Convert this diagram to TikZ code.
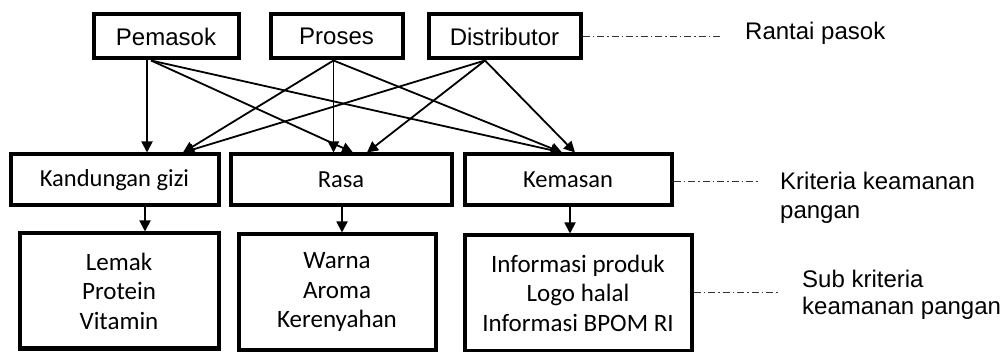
\documentclass[tikz,border=0pt]{standalone}
\usepackage{fontspec}
\setmainfont{Carlito}
\newfontfamily\arial{Liberation Sans}
\usetikzlibrary{arrows.meta}
\begin{document}
\begin{tikzpicture}[x=1pt,y=-1pt,
  topbox/.style={draw, line width=4pt, inner sep=0pt, minimum height=44pt, font=\arial\fontsize{24}{28}\selectfont},
  midbox/.style={draw, line width=4pt, inner sep=0pt, minimum height=51pt, font=\fontsize{24.5}{29.5}\selectfont},
  botbox/.style={draw, line width=4pt, inner sep=0pt, minimum height=115pt, align=center, font=\fontsize{25}{29.5}\selectfont},
  arr/.style={line width=1.8pt, -{Triangle[length=11pt,width=11pt]}},
  dd/.style={line width=1pt, black!80, dash pattern=on 7pt off 3pt on 1.5pt off 3pt},
  lab/.style={anchor=base west, inner sep=0pt, font=\arial\fontsize{24}{28}\selectfont}]
\useasboundingbox (0,0) rectangle (1006,352);
% top row
\node[topbox, minimum width=145pt] (pem) at (166,36.5) {Pemasok};
\node[topbox, minimum width=132pt] (pro) at (336.5,36.5) {Proses};
\node[topbox, minimum width=152pt] (dis) at (504.5,36.5) {Distributor};
% middle row
\node[midbox, minimum width=208pt] (kan) at (114.5,180) {Kandungan gizi};
\node[midbox, minimum width=221pt] (ras) at (341,180) {Rasa};
\node[midbox, minimum width=207pt] (kem) at (568,180) {Kemasan};
% bottom row
\node[botbox, minimum width=199pt] (lem) at (119,291) {Lemak\\Protein\\Vitamin};
\node[botbox, minimum width=197pt] (war) at (337,292) {Warna\\Aroma\\Kerenyahan};
\node[botbox, minimum width=227pt] (inf) at (578,293) {Informasi produk\\Logo halal\\Informasi BPOM RI};
% arrows from Pemasok
\draw[arr] ([xshift=-19pt]pem.south) -- ([xshift=32.5pt]kan.north);
\draw[arr] ([xshift=-15pt]pem.south) -- ([xshift=12pt]ras.north);
\draw[arr] ([xshift=-15pt]pem.south) -- ([xshift=-6pt]kem.north);
% arrows from Proses
\draw[arr] ([xshift=-3pt]pro.south) -- ([xshift=68.5pt]kan.north);
\draw[arr] ([xshift=-3pt]pro.south) -- ([xshift=-7.5pt]ras.north);
\draw[arr] ([xshift=-3pt]pro.south) -- ([xshift=-6pt]kem.north);
% arrows from Distributor
\draw[arr] ([xshift=-19.5pt]dis.south) -- ([xshift=68.5pt]kan.north);
\draw[arr] ([xshift=-19.5pt]dis.south) -- ([xshift=26pt]ras.north);
\draw[arr] ([xshift=-19.5pt]dis.south) -- ([xshift=7pt]kem.north);
% middle to bottom
\draw[arr] ([xshift=30.5pt]kan.south) -- ([xshift=30.5pt]kan.south |- lem.north);
\draw[arr] ([xshift=1pt]ras.south) -- ([xshift=1pt]ras.south |- war.north);
\draw[arr] ([xshift=2pt]kem.south) -- ([xshift=2pt]kem.south |- inf.north);
% dash-dot leaders and labels
\coordinate (e1) at (722,36.5);
\coordinate (e2) at (758,182);
\coordinate (e3) at (780,293);
\draw[dd] (dis.east) -- (e1);
\draw[dd] ([yshift=-2pt]kem.east) -- (e2);
\draw[dd] (inf.east) -- (e3);
\node[lab] (l1) at (745,40) {Rantai pasok};
\node[lab] (l2a) at (780,190) {Kriteria keamanan};
\node[lab] (l2b) at (780,218.5) {pangan};
\node[lab] (l3a) at (802,288) {Sub kriteria};
\node[lab] (l3b) at (802,315) {keamanan pangan};
\end{tikzpicture}
\end{document}
